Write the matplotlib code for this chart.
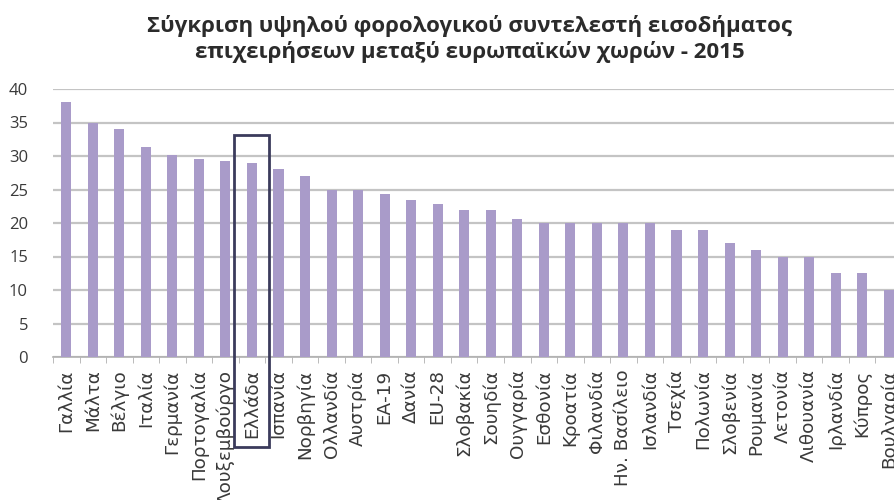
import matplotlib
matplotlib.use("Agg")
import matplotlib.pyplot as plt
from matplotlib.patches import Rectangle
import numpy as np

plt.rcParams['font.family'] = ['Open Sans', 'Noto Sans', 'DejaVu Sans']

# Data
countries = [
    "Γαλλία", "Μάλτα", "Βέλγιο", "Ιταλία", "Γερμανία", "Πορτογαλία",
    "Λουξεμβούργο", "Ελλάδα", "Ισπανία", "Νορβηγία", "Ολλανδία", "Αυστρία",
    "ΕΑ-19", "Δανία", "EU-28", "Σλοβακία", "Σουηδία", "Ουγγαρία", "Εσθονία",
    "Κροατία", "Φιλανδία", "Ην. Βασίλειο", "Ισλανδία", "Τσεχία", "Πολωνία",
    "Σλοβενία", "Ρουμανία", "Λετονία", "Λιθουανία", "Ιρλανδία", "Κύπρος",
    "Βουλγαρία",
]
rates = [
    38.0, 35.0, 34.0, 31.4, 30.2, 29.5,
    29.2, 29.0, 28.0, 27.0, 25.0, 25.0,
    24.4, 23.5, 22.8, 22.0, 22.0, 20.6, 20.0,
    20.0, 20.0, 20.0, 20.0, 19.0, 19.0,
    17.0, 16.0, 15.0, 15.0, 12.5, 12.5,
    10.0,
]
highlight = "Ελλάδα"

title = ("Σύγκριση υψηλού φορολογικού συντελεστή εισοδήματος\n"
         "επιχειρήσεων μεταξύ ευρωπαϊκών χωρών - 2015")

fig = plt.figure(figsize=(8.94, 5.0), dpi=100)
# axes runs a bit past the right edge, the source picture is cropped there
ax = fig.add_axes([53 / 894, 1 - 357 / 500, 849 / 894, 268 / 500])

x = np.arange(len(countries))
ax.bar(x, rates, width=0.38, color="#a99bc9", zorder=3)

ax.set_xlim(-0.5, len(countries) - 0.5)
ax.set_ylim(0, 40)
ax.set_yticks(range(0, 41, 5))
ax.yaxis.grid(True, color="#c4c4c4", linewidth=1.6, zorder=0)
ax.set_axisbelow(True)

ax.set_xticks(x)
ax.set_xticklabels(countries, rotation=90, fontsize=13.2, color="#3a3a3a",
                   family=['DejaVu Sans'])
ax.tick_params(axis="x", length=0, pad=9)
ax.set_xticks(np.arange(-0.5, len(countries), 1.0), minor=True)
ax.tick_params(axis="x", which="minor", length=4, color="#b0b0b0")
ax.tick_params(axis="y", length=0, labelsize=12, labelcolor="#3a3a3a", pad=18)

for side in ("left", "right", "top"):
    ax.spines[side].set_visible(False)
ax.spines["bottom"].set_color("#b0b0b0")
ax.spines["bottom"].set_linewidth(1.2)

# box around Greece
gi = countries.index(highlight)
box = Rectangle((gi - 0.66, -13.4), 1.32, rates[gi] + 4.2 + 13.4,
                fill=False, edgecolor="#3b3b5c", linewidth=2.0,
                clip_on=False, zorder=5)
ax.add_patch(box)

fig.text(0.525, 0.922, title, ha="center", va="center", fontsize=16,
         fontweight="bold", color="#2b2b2b", linespacing=1.22)

fig.savefig("out.png", dpi=100)
